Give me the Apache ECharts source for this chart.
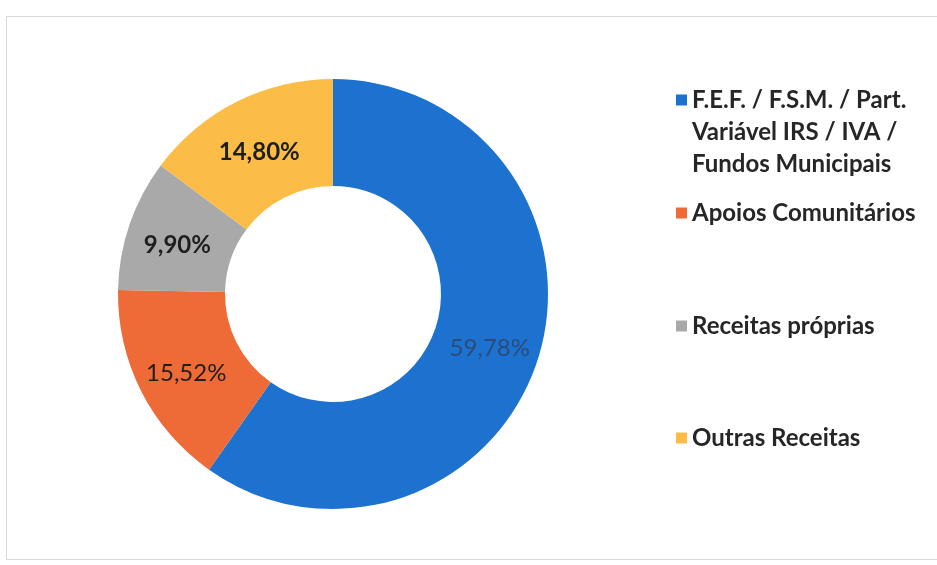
<!DOCTYPE html>
<html>
<head>
<meta charset="utf-8">
<script src="https://cdn.jsdelivr.net/npm/echarts@6/dist/echarts.min.js"></script>
<style>
html,body{margin:0;padding:0;background:#fff;}
#frame{position:absolute;left:6px;top:16px;width:940px;height:544px;border:1px solid #d9d9d9;box-sizing:border-box;}
#chart{position:absolute;left:0;top:0;width:937px;height:565px;}
</style>
</head>
<body>
<div id="frame"></div>
<div id="chart"></div>
<script>
const categories = [
  'F.E.F. / F.S.M. / Part.\nVariável IRS / IVA /\nFundos Municipais',
  'Apoios Comunitários',
  'Receitas próprias',
  'Outras Receitas'
];
const values = [59.78, 15.52, 9.90, 14.80];
const colors = ['#1D72CF', '#EE6A37', '#A9A9A9', '#FBBD47'];
const labelColors = ['#2B4C7A', '#1E1E1E', '#1E1E1E', '#1E1E1E'];
const labelWeights = ['normal', 'normal', 'bold', 'bold'];
const legendTops = [95, 208, 321, 433];

const chart = echarts.init(document.getElementById('chart'), null, {renderer: 'canvas'});

const LH = 32;
const legends = categories.map((name, i) => {
  const lines = name.split('\n').length;
  const total = lines * 2 - 1;
  return {
    data: [name],
    orient: 'vertical',
    left: 671,
    top: legendTops[i] - (total * LH) / 2,
    itemWidth: 11,
    itemHeight: 11,
    itemGap: 0,
    icon: 'rect',
    selectedMode: false,
    formatter: n => '\n'.repeat(lines - 1) + n,
    textStyle: {
      fontFamily: 'Lato',
      fontWeight: 'bold',
      fontSize: 24,
      color: '#262626',
      lineHeight: LH
    }
  };
});

chart.setOption({
  animation: false,
  backgroundColor: 'transparent',
  legend: legends,
  series: [{
    type: 'pie',
    center: [333, 294],
    radius: [108, 215],
    startAngle: 90,
    clockwise: true,
    avoidLabelOverlap: false,
    label: {
      show: true,
      position: 'inside',
      fontFamily: 'Lato',
      fontSize: 24,
      offset: [0, 5],
      formatter: p => p.value.toFixed(2).replace('.', ',') + '%'
    },
    labelLine: {show: false},
    itemStyle: {borderWidth: 0},
    emphasis: {disabled: true},
    data: categories.map((name, i) => ({
      name: name,
      value: values[i],
      itemStyle: {color: colors[i]},
      label: {color: labelColors[i], fontWeight: labelWeights[i]}
    }))
  }]
});
</script>
</body>
</html>
